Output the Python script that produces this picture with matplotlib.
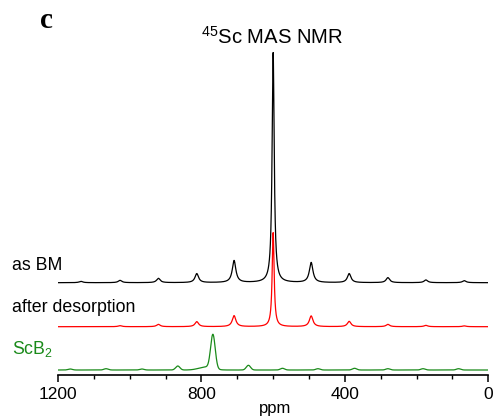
import numpy as np
import matplotlib
matplotlib.use("Agg")
import matplotlib.pyplot as plt

plt.rcParams['font.family'] = ['Liberation Sans', 'DejaVu Sans']
plt.rcParams['mathtext.default'] = 'regular'

# peaks: position (ppm), height (px above own baseline), fwhm (ppm)
bm_pos = [600, 494, 388, 280, 174, 67, 709, 813, 920, 1027, 1136]
bm_height = [230, 20, 9, 5, 2.7, 2, 22, 9, 4.3, 2.3, 1.3]
bm_fwhm = [7, 12, 12, 12, 12, 12, 12, 12, 12, 12, 12]

des_pos = [600, 494, 388, 280, 174, 67, 709, 813, 920, 1027]
des_height = [94, 10.7, 5.3, 2.3, 1.3, 0.8, 11, 5, 2.3, 1]
des_fwhm = [6.5, 12, 12, 12, 12, 12, 12, 12, 12, 12]

scb2_pos = [768, 788, 866, 966, 1066, 1166, 669, 574, 475, 373, 280, 182, 83]
scb2_height = [34, 3, 4, 1, 1.3, 1, 4.7, 1.7, 1.3, 1.7, 1.3, 1.3, 1.3]
scb2_fwhm = [15, 45, 14, 14, 14, 14, 14, 14, 14, 14, 14, 14, 14]

labels = ["as BM", "after desorption", "ScB$_2$"]
colors = ["black", "red", "#1a8a1a"]
label_colors = ["black", "black", "#1a8a1a"]
offsets = [91.8, 47.8, 4.5]

ppm = np.linspace(1200, 0, 6001)


def lorentz(x, pos, h, w):
    y = np.zeros_like(x)
    for p, a, f in zip(pos, h, w):
        y += a / (1 + ((x - p) / (f / 2)) ** 2)
    return y


def gauss(x, pos, h, w):
    y = np.zeros_like(x)
    for p, a, f in zip(pos, h, w):
        y += a * np.exp(-4 * np.log(2) * ((x - p) / f) ** 2)
    return y


spectra = [lorentz(ppm, bm_pos, bm_height, bm_fwhm),
           lorentz(ppm, des_pos, des_height, des_fwhm),
           gauss(ppm, scb2_pos, scb2_height, scb2_fwhm)]

fig = plt.figure(figsize=(4.95, 4.2), dpi=100)
ax = fig.add_axes([58 / 495, (420 - 374.5) / 420, (488.3 - 58) / 495, (374.5 - 45) / 420])

for y, off, c in zip(spectra, offsets, colors):
    ax.plot(ppm, y + off, color=c, lw=0.9)

ax.set_xlim(1200, 0)
ax.set_ylim(0, 329.5)
for s in ['top', 'right', 'left']:
    ax.spines[s].set_visible(False)
ax.spines['bottom'].set_linewidth(1.2)
ax.set_yticks([])
ax.set_xticks([1200, 800, 400, 0])
ax.set_xticks(np.arange(0, 1201, 100), minor=True)
ax.tick_params(axis='x', which='major', length=5, width=1.1, labelsize=12.5, pad=4)
ax.tick_params(axis='x', which='minor', length=2.7, width=1.0)
ax.patch.set_alpha(0)

# sample labels
for lab, yc, c in zip(labels, [266, 307, 349], label_colors):
    fig.text(12 / 495, 1 - yc / 420, lab, fontsize=12.8, color=c, va='center')

fig.text(272 / 495, 1 - 37 / 420, "$^{45}$Sc MAS NMR", fontsize=14.6, ha='center', va='center')
fig.text(40 / 495, 1 - 21 / 420, "c", fontsize=21, fontweight='bold',
         family='Liberation Serif', va='center')
fig.text(275 / 495, 1 - 408 / 420, "ppm", fontsize=12, ha='center', va='center')

fig.savefig("out.png", dpi=100)
